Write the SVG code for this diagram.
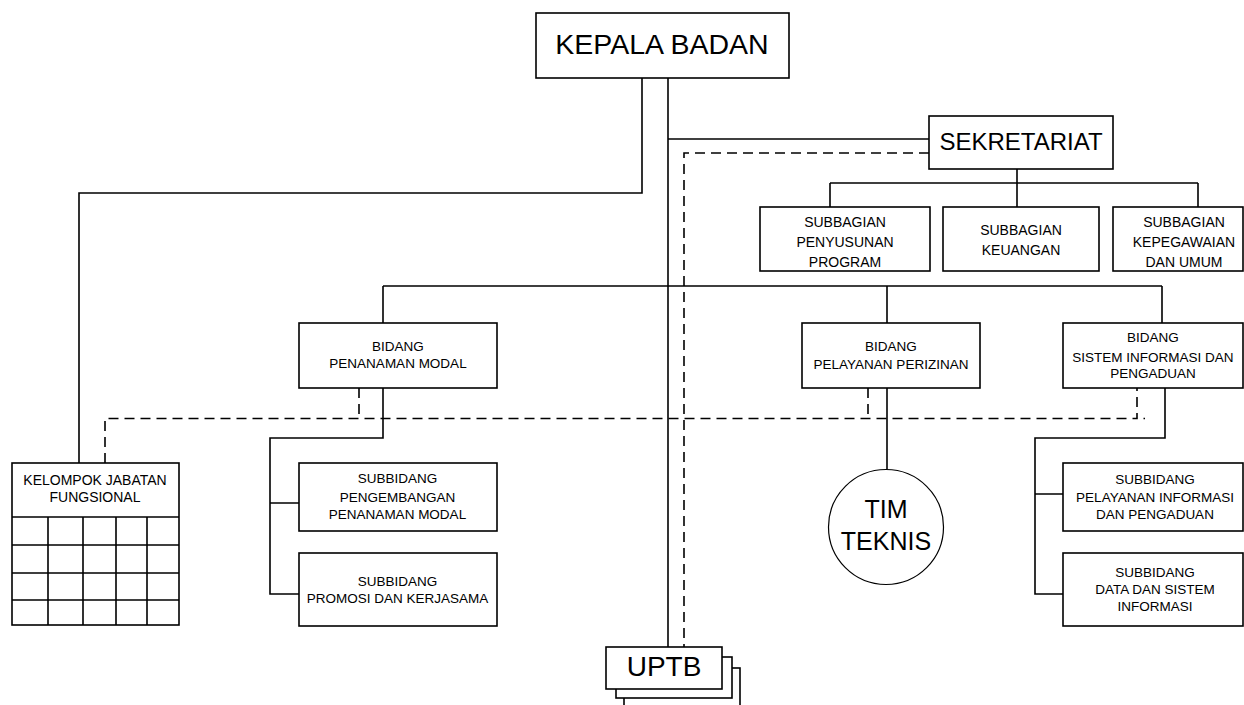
<svg xmlns="http://www.w3.org/2000/svg" width="1244" height="705" viewBox="0 0 1244 705">
<style>
.box{fill:#fff;stroke:#000;stroke-width:1.6}
.ln{fill:none;stroke:#000;stroke-width:1.6}
.ds{fill:none;stroke:#000;stroke-width:1.6;stroke-dasharray:10,6}
text{font-family:"Liberation Sans",Arial,sans-serif;fill:#000;text-anchor:middle}
.s{font-size:14px}
.b{font-size:13.5px}
</style>
<rect width="1244" height="705" fill="#fff"/>
<g id="connectors">
<path class="ln" d="M642,78 V193 H79 V463"/>
<path class="ln" d="M668,78 V647"/>
<path class="ln" d="M668,139 H929"/>
<path class="ln" d="M1017,169 V183 M830,183 H1198 M830,183 V207 M1017,183 V207 M1198,183 V207"/>
<path class="ln" d="M383,286 H1162 M383,286 V323 M887,286 V323 M1162,286 V323"/>
<path class="ln" d="M383,388 V438 H270 V594 H299 M270,503 H299"/>
<path class="ln" d="M887,388 V469"/>
<path class="ln" d="M1165,388 V438 H1035 V594 H1063 M1035,494 H1063"/>
<path class="ds" d="M929,153 H684 V647"/>
<path class="ds" d="M105,463 V418.5 H1137 V388"/>
<path class="ds" d="M359,388 V418.5"/>
<path class="ds" d="M868,388 V418.5"/>
<path class="ln" d="M1143.5,418.5 H1145"/>
</g>
<g id="kepala-badan">
<rect class="box" x="536" y="13" width="253" height="65"/>
<text x="662" y="53.5" font-size="28.5">KEPALA BADAN</text>
</g>
<g id="sekretariat">
<rect class="box" x="929" y="116" width="184" height="53"/>
<text x="1021" y="150" font-size="24">SEKRETARIAT</text>
</g>
<g id="subbagian-penyusunan-program">
<rect class="box" x="760" y="207" width="170" height="64"/>
<text class="s" x="845" y="226.5">SUBBAGIAN</text>
<text class="s" x="845" y="246.5">PENYUSUNAN</text>
<text class="s" x="845" y="266.5">PROGRAM</text>
</g>
<g id="subbagian-keuangan">
<rect class="box" x="943" y="207" width="156" height="64"/>
<text class="s" x="1021" y="235">SUBBAGIAN</text>
<text class="s" x="1021" y="255">KEUANGAN</text>
</g>
<g id="subbagian-kepegawaian">
<rect class="box" x="1113" y="207" width="130" height="64"/>
<text class="s" x="1184" y="226.5">SUBBAGIAN</text>
<text class="s" x="1184" y="246.5">KEPEGAWAIAN</text>
<text class="s" x="1184" y="266.5">DAN UMUM</text>
</g>
<g id="bidang-penanaman-modal">
<rect class="box" x="299" y="323" width="198" height="65"/>
<text class="b" x="398" y="351">BIDANG</text>
<text class="b" x="398" y="368">PENANAMAN MODAL</text>
</g>
<g id="bidang-pelayanan-perizinan">
<rect class="box" x="802" y="323" width="178" height="65"/>
<text class="b" x="891" y="351">BIDANG</text>
<text class="b" x="891" y="369">PELAYANAN PERIZINAN</text>
</g>
<g id="bidang-sistem-informasi">
<rect class="box" x="1063" y="323" width="180" height="65"/>
<text class="b" x="1153" y="342.3">BIDANG</text>
<text class="b" x="1153" y="362.3">SISTEM INFORMASI DAN</text>
<text class="b" x="1153" y="378.3">PENGADUAN</text>
</g>
<g id="kelompok-jabatan-fungsional">
<rect class="box" x="12" y="463" width="167" height="162"/>
<path class="ln" d="M12,517 H179 M12,545 H179 M12,573 H179 M12,600 H179 M48,517 V625 M83,517 V625 M116,517 V625 M147,517 V625"/>
<text class="s" x="95" y="485">KELOMPOK JABATAN</text>
<text class="s" x="95" y="502">FUNGSIONAL</text>
</g>
<g id="subbidang-pengembangan">
<rect class="box" x="299" y="463" width="198" height="68"/>
<text class="b" x="397.5" y="483">SUBBIDANG</text>
<text class="b" x="397.5" y="502">PENGEMBANGAN</text>
<text class="b" x="397.5" y="519">PENANAMAN MODAL</text>
</g>
<g id="subbidang-promosi">
<rect class="box" x="299" y="553" width="198" height="73"/>
<text class="b" x="397.5" y="586">SUBBIDANG</text>
<text class="b" x="397.5" y="603">PROMOSI DAN KERJASAMA</text>
</g>
<g id="tim-teknis">
<circle cx="886" cy="527" r="57.5" fill="#fff" stroke="#000" stroke-width="1.2"/>
<text x="886" y="518" font-size="25">TIM</text>
<text x="886" y="550" font-size="25">TEKNIS</text>
</g>
<g id="subbidang-pelayanan-informasi">
<rect class="box" x="1063" y="463" width="180" height="68"/>
<text class="b" x="1155" y="484">SUBBIDANG</text>
<text class="b" x="1155" y="502">PELAYANAN INFORMASI</text>
<text class="b" x="1155" y="519">DAN PENGADUAN</text>
</g>
<g id="subbidang-data-sistem">
<rect class="box" x="1063" y="553" width="180" height="73"/>
<text class="b" x="1155" y="577">SUBBIDANG</text>
<text class="b" x="1155" y="594">DATA DAN SISTEM</text>
<text class="b" x="1155" y="611">INFORMASI</text>
</g>
<g id="uptb">
<rect class="box" x="624" y="668" width="116" height="50"/>
<rect class="box" x="616" y="657" width="116" height="41"/>
<rect class="box" x="606" y="647" width="116" height="42"/>
<text x="664" y="675.5" font-size="28">UPTB</text>
</g>
</svg>
